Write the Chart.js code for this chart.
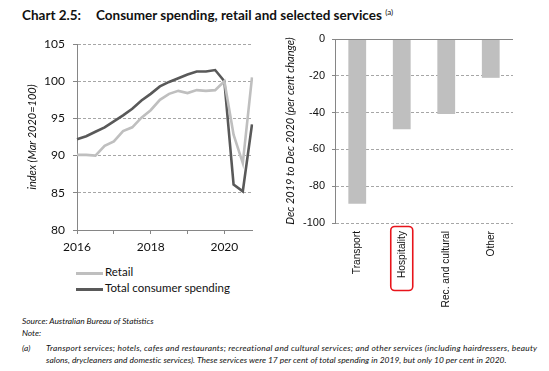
<!DOCTYPE html>
<html>
<head>
<meta charset="utf-8">
<script src="https://cdn.jsdelivr.net/npm/chart.js@4.4.1/dist/chart.umd.min.js"></script>
<style>
body { margin: 0; width: 549px; height: 371px; background: #fff; position: relative; overflow: hidden; font-family: Lato, 'Open Sans', sans-serif; color: #111; }
.abs { position: absolute; white-space: nowrap; }
.title { top: 7px; font-size: 13.5px; font-weight: bold; }
.title sup { font-size: 8px; font-weight: normal; vertical-align: 5px; }
.legend { left: 76px; font-size: 11.5px; }
.legend i { display: inline-block; width: 27px; height: 3px; vertical-align: middle; margin-right: 2px; }
.foot { font-size: 8.4px; font-style: italic; }
#left { position: absolute; left: 0; top: 30px; }
#right { position: absolute; left: 270px; top: 30px; }
</style>
</head>
<body>
<div class="abs title" style="left:22px">Chart 2.5:</div>
<div class="abs title" style="left:96px">Consumer spending, retail and selected services <sup>(a)</sup></div>

<canvas id="left" width="270" height="230"></canvas>
<canvas id="right" width="279" height="290"></canvas>

<div class="abs legend" style="top:265px"><i style="background:#BFBFBF"></i>Retail</div>
<div class="abs legend" style="top:281px"><i style="background:#595959"></i>Total consumer spending</div>

<div class="abs foot" style="left:22px;top:316px">Source: Australian Bureau of Statistics</div>
<div class="abs foot" style="left:22px;top:328px">Note:</div>
<div class="abs foot" style="left:22px;top:343px">(a)</div>
<div class="abs foot" style="left:46px;top:343px;letter-spacing:0.25px">Transport services; hotels, cafes and restaurants; recreational and cultural services; and other services (including hairdressers, beauty</div>
<div class="abs foot" style="left:46px;top:355px;letter-spacing:0.05px">salons, drycleaners and domestic services). These services were 17 per cent of total spending in 2019, but only 10 per cent in 2020.</div>

<script>
// quarterly index, Mar 2020 = 100
const quarters = [
	'Mar 2016', 'Jun 2016', 'Sep 2016', 'Dec 2016',
	'Mar 2017', 'Jun 2017', 'Sep 2017', 'Dec 2017',
	'Mar 2018', 'Jun 2018', 'Sep 2018', 'Dec 2018',
	'Mar 2019', 'Jun 2019', 'Sep 2019', 'Dec 2019',
	'Mar 2020', 'Jun 2020', 'Sep 2020', 'Dec 2020'
];
const retail = [90.1, 90.1, 90.0, 91.3, 91.9, 93.3, 93.8, 95.1, 96.1, 97.5, 98.3, 98.7, 98.4, 98.8, 98.7, 98.8, 100.0, 92.8, 89.0, 100.5];
const total = [92.2, 92.6, 93.2, 93.8, 94.6, 95.4, 96.3, 97.4, 98.3, 99.3, 99.9, 100.4, 100.9, 101.3, 101.3, 101.5, 100.0, 86.1, 85.2, 94.2];

// Dec 2019 to Dec 2020, per cent change
const services = ['Transport', 'Hospitality', 'Rec. and cultural', 'Other'];
const change = [-89.6, -49.1, -40.7, -21.1];

Chart.defaults.font.family = 'Lato';
Chart.defaults.color = '#111';
Chart.defaults.animation = false;

const AXIS = '#868686';
const GRID = '#A6A6A6';

// fixed axis box; drop the label half-height padding so layout.padding decides the plot edges
const fixWidth = w => s => { s.width = w; s.paddingTop = 0; s.paddingBottom = 0; };

new Chart(document.getElementById('left'), {
	type: 'line',
	data: {
		labels: quarters,
		datasets: [
			{ label: 'Retail', data: retail, borderColor: '#BFBFBF', borderWidth: 2.6, pointRadius: 0, tension: 0 },
			{ label: 'Total consumer spending', data: total, borderColor: '#595959', borderWidth: 2.6, pointRadius: 0, tension: 0 },
		],
	},
	options: {
		responsive: false,
		layout: { padding: { left: 22, right: 18, top: 14, bottom: 0 } },
		plugins: { legend: { display: false }, tooltip: { enabled: false } },
		scales: {
			x: {
				offset: false,
				afterFit: s => { s.height = 30; },
				grid: {
					drawOnChartArea: false,
					tickLength: 4,
					color: ctx => ctx.index % 4 === 0 ? AXIS : 'transparent',
				},
				border: { color: AXIS },
				ticks: {
					autoSkip: false,
					maxRotation: 0,
					padding: 6,
					font: { size: 12 },
					callback: (v, i) => i % 8 === 0 ? quarters[i].slice(-4) : '',
				},
			},
			y: {
				min: 80,
				max: 105,
				afterFit: fixWidth(55),
				ticks: { stepSize: 5, padding: 8, font: { size: 12 } },
				grid: { color: GRID, tickColor: AXIS, tickLength: 4 },
				border: { color: AXIS, dash: [3, 2] },
				title: { display: true, text: 'index (Mar 2020=100)', font: { size: 11, style: 'italic' }, padding: 4 },
			},
		},
	},
});

const rightExtras = {
	id: 'rightExtras',
	afterDatasetsDraw(chart) {
		const { ctx, chartArea, scales } = chart;
		const y0 = Math.round(scales.y.getPixelForValue(0)) + 0.5;
		ctx.save();
		ctx.strokeStyle = AXIS;
		ctx.lineWidth = 1;
		ctx.beginPath();
		ctx.moveTo(chartArea.left, y0);
		ctx.lineTo(chartArea.right, y0);
		ctx.stroke();
		ctx.restore();
	},
	afterDraw(chart) {
		// red highlight around the Hospitality label
		const { ctx, chartArea, scales } = chart;
		const x = scales.x.getPixelForValue(1);
		ctx.save();
		ctx.font = '10.2px "Liberation Sans"';
		const w = ctx.measureText(services[1]).width;
		const top = chartArea.bottom + 3.5;
		ctx.strokeStyle = '#E8141B';
		ctx.lineWidth = 1.6;
		ctx.beginPath();
		ctx.roundRect(x - 11, top, 22, w + 17, 4);
		ctx.stroke();
		ctx.restore();
	},
};

new Chart(document.getElementById('right'), {
	type: 'bar',
	data: {
		labels: services,
		datasets: [{ data: change, backgroundColor: '#BFBFBF', barPercentage: 0.4, categoryPercentage: 1 }],
	},
	plugins: [rightExtras],
	options: {
		responsive: false,
		layout: { padding: { left: 10, right: 36, top: 9, bottom: 0 } },
		plugins: { legend: { display: false }, tooltip: { enabled: false } },
		scales: {
			x: {
				afterFit: s => { s.height = 97; },
				grid: { display: false, drawTicks: false },
				border: { display: false },
				ticks: {
					autoSkip: false,
					minRotation: 90,
					maxRotation: 90,
					padding: 8,
					font: { family: 'Liberation Sans', size: 10.2 },
				},
			},
			y: {
				min: -100,
				max: 0,
				afterFit: fixWidth(55),
				ticks: { stepSize: 20, padding: 7, font: { family: 'Liberation Sans', size: 11 } },
				grid: { color: GRID, tickColor: AXIS, tickLength: 3 },
				border: { color: AXIS, dash: [3, 2] },
				title: { display: true, text: 'Dec 2019 to Dec 2020 (per cent change)', font: { size: 11, style: 'italic' }, padding: 4 },
			},
		},
	},
});
</script>
</body>
</html>
